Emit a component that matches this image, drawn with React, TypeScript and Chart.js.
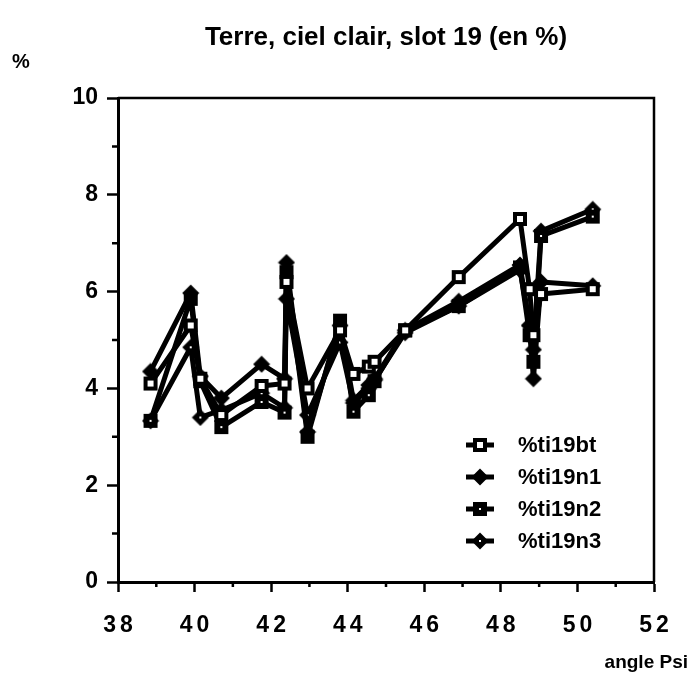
import React, { useEffect, useRef } from 'react';
import { Chart, registerables } from 'chart.js';

Chart.register(...registerables);

// ---- data ----
const psi = [38.85, 39.9, 40.15, 40.7, 41.75, 42.35, 42.4, 42.95, 43.8, 44.15, 44.55, 44.7, 45.5, 46.9, 48.5, 48.75, 48.85, 49.05, 50.4];
const ti19bt = [4.1, 5.3, 4.2, 3.45, 4.05, 4.1, 6.2, 4.0, 5.2, 4.3, 4.45, 4.55, 5.2, 6.3, 7.5, 6.05, 5.1, 5.95, 6.05];
const ti19n1 = [4.35, 5.97, 4.25, 3.8, 4.5, 4.2, 6.6, 3.1, 5.3, 3.75, 4.07, 4.2, 5.2, 5.8, 6.55, 5.3, 4.2, 6.2, 6.12];
const ti19n2 = [3.33, 5.85, 4.15, 3.2, 3.72, 3.5, 6.4, 3.0, 5.4, 3.52, 3.86, 4.15, 5.2, 5.7, 6.5, 5.1, 4.55, 7.15, 7.55];
const ti19n3 = [3.33, 4.85, 3.4, 3.55, 3.9, 3.6, 5.85, 3.45, 4.95, 3.7, 4.0, 4.17, 5.15, 5.7, 6.45, 5.3, 4.8, 7.25, 7.7];

const seriesNames = ['%ti19bt', '%ti19n1', '%ti19n2', '%ti19n3'];
const xMajorTicks = [38, 40, 42, 44, 46, 48, 50, 52];
const xMinorTicks = [39, 41, 43, 45, 47, 49, 51];
const yMajorTicks = [0, 2, 4, 6, 8, 10];
const yMinorTicks = [1, 3, 5, 7, 9];
const titleText = 'Terre, ciel clair, slot 19 (en %)';
const yUnitLabel = '%';
const xAxisLabel = 'angle Psi';

type MarkerKind = 'openSquare' | 'diamond' | 'dotSquare' | 'dotDiamond';

function makeMarker(kind: MarkerKind): HTMLCanvasElement {
  const c = document.createElement('canvas');
  const s = 18;
  c.width = s;
  c.height = s;
  const g = c.getContext('2d')!;
  g.fillStyle = '#000';
  if (kind === 'openSquare' || kind === 'dotSquare') {
    g.fillRect(2, 2, 14, 14);
  } else {
    g.beginPath();
    g.moveTo(9, 0.5);
    g.lineTo(17.5, 9);
    g.lineTo(9, 17.5);
    g.lineTo(0.5, 9);
    g.closePath();
    g.fill();
  }
  g.fillStyle = '#fff';
  if (kind === 'openSquare') g.fillRect(6, 6, 6, 6);
  if (kind === 'dotSquare' || kind === 'dotDiamond') g.fillRect(8, 8, 2, 2);
  return c;
}

const FONT = '"Liberation Sans", Arial, Helvetica, sans-serif';

export default function App() {
  const ref = useRef<HTMLCanvasElement | null>(null);

  useEffect(() => {
    const canvas = ref.current;
    if (!canvas) return;
    const markers = [
      makeMarker('openSquare'),
      makeMarker('diamond'),
      makeMarker('dotSquare'),
      makeMarker('dotDiamond'),
    ];
    const seriesValues = [ti19bt, ti19n1, ti19n2, ti19n3];

    const decor = {
      id: 'decor',
      afterDraw(chart: any) {
        const { ctx, chartArea: a, scales } = chart;
        const xs = scales.x;
        const ys = scales.y;
        ctx.save();
        ctx.strokeStyle = '#000';
        ctx.fillStyle = '#000';
        // box top & right
        ctx.lineWidth = 2.5;
        ctx.beginPath();
        ctx.moveTo(a.left, a.top);
        ctx.lineTo(a.right, a.top);
        ctx.lineTo(a.right, a.bottom);
        ctx.stroke();
        // minor ticks
        ctx.lineWidth = 2.5;
        ctx.beginPath();
        for (const v of xMinorTicks) {
          const px = xs.getPixelForValue(v);
          ctx.moveTo(px, a.bottom);
          ctx.lineTo(px, a.bottom + 5);
        }
        for (const v of yMinorTicks) {
          const py = ys.getPixelForValue(v);
          ctx.moveTo(a.left - 6, py);
          ctx.lineTo(a.left, py);
        }
        ctx.stroke();
        // x tick labels (spaced digits)
        ctx.font = `bold 23px ${FONT}`;
        ctx.textAlign = 'center';
        ctx.textBaseline = 'alphabetic';
        (ctx as any).letterSpacing = '4px';
        for (const v of xMajorTicks) {
          const px = xs.getPixelForValue(v);
          ctx.fillText(String(v), px + 2, a.bottom + 50);
        }
        (ctx as any).letterSpacing = '0px';
        // title
        ctx.font = `bold 26px ${FONT}`;
        ctx.fillText(titleText, (a.left + a.right) / 2, 45);
        // y unit
        ctx.font = `bold 20px ${FONT}`;
        ctx.fillText(yUnitLabel, 21, 68);
        // x axis label
        ctx.font = `bold 19px ${FONT}`;
        ctx.textAlign = 'right';
        ctx.fillText(xAxisLabel, 688, 668);
        // legend
        const lx = a.left + 362;
        const ly0 = a.top + 347;
        ctx.font = `bold 22px ${FONT}`;
        ctx.textAlign = 'left';
        ctx.textBaseline = 'middle';
        seriesNames.forEach((name, i) => {
          const ly = ly0 + i * 32;
          ctx.lineWidth = 5;
          ctx.beginPath();
          ctx.moveTo(lx - 14, ly);
          ctx.lineTo(lx + 14, ly);
          ctx.stroke();
          const m = markers[i];
          ctx.drawImage(m, lx - m.width / 2, ly - m.height / 2);
          ctx.fillText(name, lx + 38, ly + 1);
        });
        ctx.restore();
      },
    };

    const chart = new Chart(canvas, {
      type: 'line',
      data: {
        datasets: seriesNames.map((name, i) => ({
          label: name,
          data: psi.map((x, j) => ({ x, y: seriesValues[i][j] })),
          borderColor: '#000',
          backgroundColor: '#000',
          borderWidth: 5,
          borderJoinStyle: 'round' as const,
          pointStyle: markers[i] as any,
          pointRadius: 7,
          tension: 0,
          fill: false,
        })),
      },
      options: {
        responsive: false,
        animation: false,
        devicePixelRatio: 1,
        layout: { padding: { top: 98, right: 37, left: 0, bottom: 0 } },
        plugins: {
          legend: { display: false },
          title: { display: false },
          tooltip: { enabled: false },
        },
        scales: {
          x: {
            type: 'linear',
            min: 38,
            max: 52,
            afterFit: (s: any) => {
              s.height = 98;
            },
            afterBuildTicks: (s: any) => {
              s.ticks = xMajorTicks.map((v) => ({ value: v }));
            },
            ticks: {
              display: false,
              autoSkip: false,
            },
            grid: {
              drawOnChartArea: false,
              tickLength: 10,
              tickWidth: 2.5,
              tickColor: '#000',
            },
            border: { color: '#000', width: 3 },
          },
          y: {
            type: 'linear',
            min: 0,
            max: 10,
            afterFit: (s: any) => {
              s.width = 118;
            },
            afterBuildTicks: (s: any) => {
              s.ticks = yMajorTicks.map((v) => ({ value: v }));
            },
            ticks: {
              color: '#000',
              font: { family: FONT, size: 23, weight: 'bold' },
              padding: 9,
              autoSkip: false,
            },
            grid: {
              drawOnChartArea: false,
              tickLength: 11,
              tickWidth: 2.5,
              tickColor: '#000',
            },
            border: { color: '#000', width: 3 },
          },
        },
      },
      plugins: [decor],
    } as any);

    return () => {
      chart.destroy();
    };
  }, []);

  return (
    <div style={{ position: 'fixed', left: 0, top: 0, width: 691, height: 680, background: '#fff' }}>
      <canvas ref={ref} width={691} height={680} style={{ display: 'block', width: 691, height: 680 }} />
    </div>
  );
}
